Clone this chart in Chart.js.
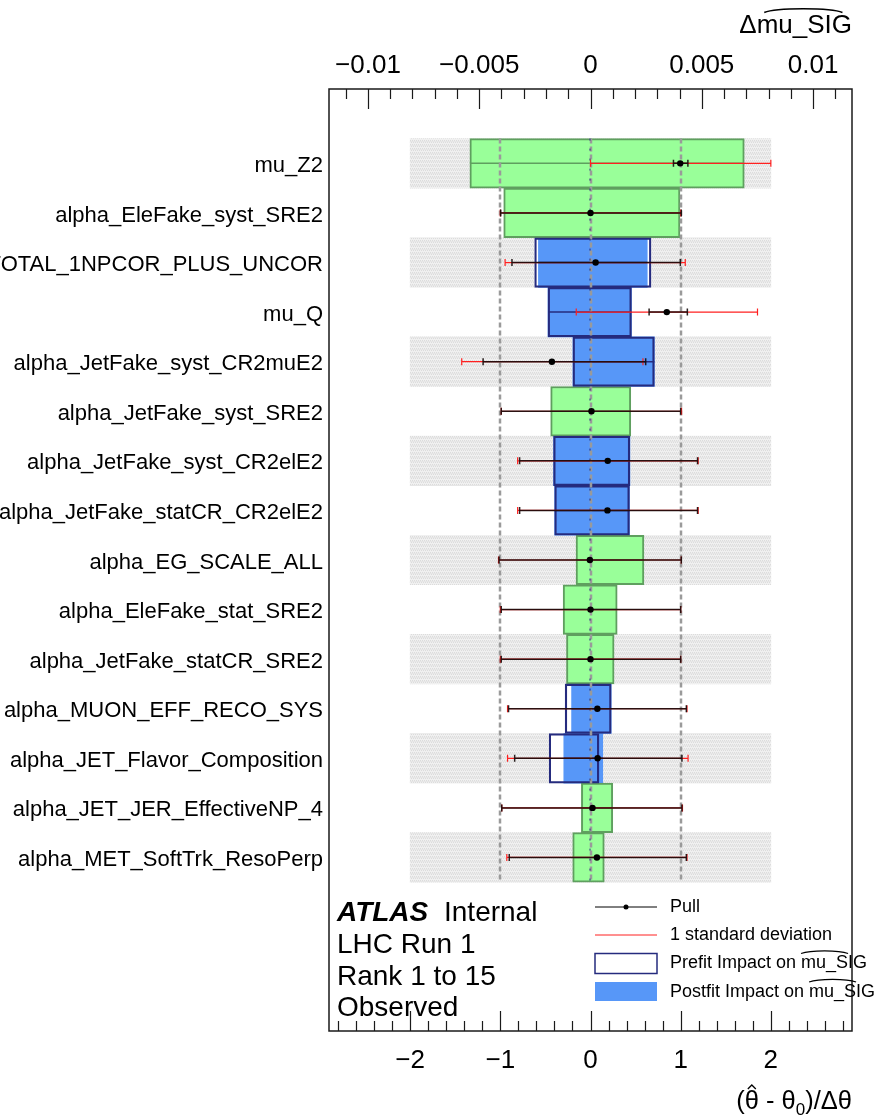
<!DOCTYPE html>
<html>
<head>
<meta charset="utf-8">
<script src="https://cdn.jsdelivr.net/npm/chart.js@4.4.1/dist/chart.umd.min.js"></script>
<style>
  html, body { margin: 0; padding: 0; background: #fff; }
  canvas { display: block; }
</style>
</head>
<body>
<canvas id="rankChart" width="877" height="1117"></canvas>
<script>
// ranking of nuisance parameters, top to bottom
const paramNames = [
  'mu_Z2',
  'alpha_EleFake_syst_SRE2',
  'alpha_EL_EFF_ID_TOTAL_1NPCOR_PLUS_UNCOR',
  'mu_Q',
  'alpha_JetFake_syst_CR2muE2',
  'alpha_JetFake_syst_SRE2',
  'alpha_JetFake_syst_CR2elE2',
  'alpha_JetFake_statCR_CR2elE2',
  'alpha_EG_SCALE_ALL',
  'alpha_EleFake_stat_SRE2',
  'alpha_JetFake_statCR_SRE2',
  'alpha_MUON_EFF_RECO_SYS',
  'alpha_JET_Flavor_Composition',
  'alpha_JET_JER_EffectiveNP_4',
  'alpha_MET_SoftTrk_ResoPerp'
];

// pulls (bottom axis)
const pullValue  = [0.995, 0.0, 0.057, 0.846, -0.428, 0.011, 0.191, 0.188, -0.007, 0.0, 0.0, 0.076, 0.079, 0.022, 0.071];
const pullLow    = [0.92, -0.996, -0.871, 0.65, -1.191, -0.99, -0.786, -0.786, -1.014, -0.99, -0.99, -0.909, -0.841, -0.984, -0.901];
const pullHigh   = [1.08, 1.007, 0.996, 1.074, 0.612, 1.0, 1.187, 1.187, 1.007, 1.0, 1.0, 1.063, 1.014, 1.014, 1.063];
const sigmaLow   = [0.0, -1.0, -0.947, -0.158, -1.428, -0.99, -0.808, -0.808, -1.02, -1.0, -1.0, -0.92, -0.92, -0.984, -0.928];
const sigmaHigh  = [2.0, 1.0, 1.051, 1.852, 0.582, 1.01, 1.194, 1.194, 1.007, 1.0, 1.0, 1.07, 1.082, 1.02, 1.07];

// impacts on mu_SIG (top axis)
const postfitLow  = [-0.00542, -0.0039, -0.00234, -0.00191, -0.00079, -0.00179, -0.00166, -0.00161, -0.00065, -0.00123, -0.00108, -0.00085, -0.0012, -0.00041, -0.0008];
const postfitHigh = [0.00691, 0.00402, 0.00255, 0.00184, 0.00287, 0.00181, 0.00177, 0.00175, 0.0024, 0.0012, 0.00106, 0.00093, 0.00055, 0.001, 0.00062];
const prefitLow   = [null, null, -0.00251, -0.00191, -0.00079, null, -0.00166, -0.00161, null, null, null, -0.00114, -0.00186, null, null];
const prefitHigh  = [null, null, 0.00272, 0.00184, 0.00287, null, 0.00177, 0.00175, null, null, null, 0.00093, 0.00038, null, null];
// which of the two impact series a row's box belongs to
const impactSeries = ['B', 'B', 'A', 'A', 'A', 'B', 'A', 'A', 'B', 'B', 'B', 'A', 'A', 'B', 'B'];

const pullTicks = [-2, -1, 0, 1, 2];
const impactTicks = [-0.01, -0.005, 0, 0.005, 0.01];
const refLines = [-1, 0, 1];
const bandRange = [-2, 2];

const FONT = "'Liberation Sans', Arial, Helvetica, sans-serif";
const GREEN = '#99ff99';
const GREEN_EDGE = '#5f9f5f';
const BLUE = '#5797f8';
const NAVY = '#252b7e';

const nRows = paramNames.length;
const rowY = i => nRows - 0.5 - i;

const makeBandPattern = () => {
    const c = document.createElement('canvas');
    c.width = 4; c.height = 4;
    const g = c.getContext('2d');
    g.fillStyle = '#f0f0f0';
    g.fillRect(0, 0, 4, 4);
    g.fillStyle = '#dcdcdc';
    g.fillRect(0, 0, 1, 1); g.fillRect(2, 0, 1, 1); g.fillRect(1, 2, 1, 1); g.fillRect(3, 2, 1, 1);
    g.fillStyle = '#e6e6e6';
    g.fillRect(0, 1, 4, 1);
    return g.createPattern(c, 'repeat');
};

const minus = v => (v < 0 ? '\u2212' : '') + Math.abs(v);

const boxOpts = { grouped: false, barPercentage: 1, categoryPercentage: 1, borderSkipped: false, xAxisID: 'x2', yAxisID: 'y' };

const bandData = paramNames.map((_, i) => i % 2 === 0 ? { x: bandRange, y: rowY(i) } : null).filter(Boolean);
const prefitData = paramNames.map((_, i) => prefitLow[i] !== null ? { x: [prefitLow[i], prefitHigh[i]], y: rowY(i) } : null).filter(Boolean);
const postfitData = s => paramNames.map((_, i) => impactSeries[i] === s ? { x: [postfitLow[i], postfitHigh[i]], y: rowY(i) } : null).filter(Boolean);

const OUTLINE_INDEX = 4;

const rankPlugin = {
    id: 'rankPlugin',
    afterDatasetDraw(chart, args) {
        if (args.index !== OUTLINE_INDEX) return;
        const { ctx, scales } = chart;
        const xs = scales.x, xi = scales.x2, ys = scales.y;
        ctx.save();
        // middle line through every impact box
        paramNames.forEach((_, i) => {
            const y = ys.getPixelForValue(rowY(i));
            ctx.strokeStyle = impactSeries[i] === 'B' ? GREEN_EDGE : NAVY;
            ctx.lineWidth = 1.5;
            ctx.beginPath();
            ctx.moveTo(xi.getPixelForValue(postfitLow[i]), y);
            ctx.lineTo(xi.getPixelForValue(postfitHigh[i]), y);
            ctx.stroke();
        });
        // dashed reference lines
        const yTop = ys.getPixelForValue(nRows), yBot = ys.getPixelForValue(0);
        ctx.strokeStyle = '#9a9a9a';
        ctx.lineWidth = 2.5;
        ctx.setLineDash([5, 3]);
        refLines.forEach(v => {
            const x = Math.round(xs.getPixelForValue(v));
            ctx.beginPath(); ctx.moveTo(x, yTop); ctx.lineTo(x, yBot); ctx.stroke();
        });
        ctx.strokeStyle = NAVY;
        ctx.lineWidth = 1;
        ctx.setLineDash([2, 8]);
        const x0 = Math.round(xs.getPixelForValue(0)) - 1;
        ctx.beginPath(); ctx.moveTo(x0, yTop); ctx.lineTo(x0, yBot); ctx.stroke();
        ctx.setLineDash([]);
        // error bars: 1 standard deviation (red) under pull error (black)
        const bar = (lo, hi, y, color, width) => {
            const a = xs.getPixelForValue(lo), b = xs.getPixelForValue(hi);
            ctx.strokeStyle = color;
            ctx.lineWidth = width;
            ctx.beginPath();
            ctx.moveTo(a, y); ctx.lineTo(b, y);
            ctx.moveTo(a, y - 3.5); ctx.lineTo(a, y + 3.5);
            ctx.moveTo(b, y - 3.5); ctx.lineTo(b, y + 3.5);
            ctx.stroke();
        };
        paramNames.forEach((_, i) => {
            const y = ys.getPixelForValue(rowY(i));
            bar(sigmaLow[i], sigmaHigh[i], y, '#ff2020', 1.2);
            bar(pullLow[i], pullHigh[i], y, 'rgba(20,10,10,0.9)', 1.5);
        });
        ctx.restore();
    },
    afterDraw(chart) {
        const { ctx, chartArea: ca, scales } = chart;
        ctx.save();
        // frame
        ctx.strokeStyle = '#1a1a1a';
        ctx.lineWidth = 1.5;
        ctx.strokeRect(ca.left, ca.top, ca.right - ca.left, ca.bottom - ca.top);
        // inward ticks
        const drawTicks = (scale, minorStep, perMajor, yEdge, dir) => {
            const k0 = Math.ceil(scale.min / minorStep - 1e-9);
            const k1 = Math.floor(scale.max / minorStep + 1e-9);
            ctx.lineWidth = 1.2;
            ctx.beginPath();
            for (let k = k0; k <= k1; k++) {
                const x = Math.round(scale.getPixelForValue(k * minorStep)) + 0.5;
                const len = k % perMajor === 0 ? 20 : 10;
                ctx.moveTo(x, yEdge);
                ctx.lineTo(x, yEdge + dir * len);
            }
            ctx.stroke();
        };
        drawTicks(scales.x, 0.2, 5, ca.bottom, -1);
        drawTicks(scales.x2, 0.001, 5, ca.top, 1);

        // ATLAS label
        ctx.fillStyle = '#000';
        ctx.textAlign = 'left';
        ctx.textBaseline = 'alphabetic';
        ctx.font = `italic bold 28px ${FONT}`;
        ctx.fillText('ATLAS', 337, 921);
        ctx.font = `28px ${FONT}`;
        ctx.fillText('Internal', 444, 921);
        ctx.fillText('LHC Run 1', 337, 953);
        ctx.fillText('Rank 1 to 15', 337, 985);
        ctx.fillText('Observed', 337, 1016);

        // legend
        const sx0 = 595, sx1 = 657, tx = 670;
        const rowsY = [907, 935, 963.5, 992];
        ctx.strokeStyle = '#000';
        ctx.lineWidth = 1;
        ctx.beginPath(); ctx.moveTo(sx0, rowsY[0]); ctx.lineTo(sx1, rowsY[0]); ctx.stroke();
        ctx.beginPath(); ctx.arc((sx0 + sx1) / 2, rowsY[0], 2.5, 0, Math.PI * 2); ctx.fill();
        ctx.strokeStyle = '#ff2020';
        ctx.beginPath(); ctx.moveTo(sx0, rowsY[1]); ctx.lineTo(sx1, rowsY[1]); ctx.stroke();
        ctx.fillStyle = '#fff';
        ctx.fillRect(sx0, rowsY[2] - 10, sx1 - sx0, 20);
        ctx.strokeStyle = NAVY;
        ctx.lineWidth = 1.5;
        ctx.strokeRect(sx0, rowsY[2] - 10, sx1 - sx0, 20);
        ctx.fillStyle = BLUE;
        ctx.fillRect(sx0, rowsY[3] - 10, sx1 - sx0, 19);

        ctx.fillStyle = '#000';
        ctx.font = `18px ${FONT}`;
        ctx.textBaseline = 'middle';
        ctx.fillText('Pull', tx, rowsY[0]);
        ctx.fillText('1 standard deviation', tx, rowsY[1]);
        const hatText = (prefix, y) => {
            ctx.fillText(prefix + 'mu_SIG', tx, y);
            const xm = tx + ctx.measureText(prefix).width;
            const w = ctx.measureText('mu_S').width;
            ctx.strokeStyle = '#000';
            ctx.lineWidth = 1.2;
            ctx.beginPath();
            ctx.moveTo(xm, y - 10);
            ctx.bezierCurveTo(xm + 0.2 * w, y - 13.5, xm + 0.8 * w, y - 13.5, xm + w, y - 10);
            ctx.stroke();
        };
        hatText('Prefit Impact on ', rowsY[2]);
        hatText('Postfit Impact on ', rowsY[3]);

        // top axis title
        ctx.textBaseline = 'alphabetic';
        ctx.textAlign = 'right';
        ctx.font = `26px ${FONT}`;
        const right = ca.right;
        ctx.fillText('\u0394mu_SIG', right, 33);
        const wMu = ctx.measureText('mu_SIG').width;
        const hx0 = right - wMu + 0.08 * wMu, hx1 = right - 0.1 * wMu;
        ctx.lineWidth = 1.5;
        ctx.beginPath();
        ctx.moveTo(hx0, 12.5);
        ctx.bezierCurveTo(hx0 + 0.15 * (hx1 - hx0), 7.5, hx1 - 0.15 * (hx1 - hx0), 7.5, hx1, 12.5);
        ctx.stroke();

        // bottom axis title: (theta-hat - theta_0)/Delta theta
        ctx.textAlign = 'left';
        const big = `25.5px ${FONT}`, small = `17px ${FONT}`;
        const parts = [['(', big, 0], ['\u03b8', big, 0], [' - \u03b8', big, 0], ['0', small, 6], [')/\u0394\u03b8', big, 0]];
        const widths = parts.map(([t, f]) => { ctx.font = f; return ctx.measureText(t).width; });
        let x = right - widths.reduce((a, b) => a + b, 0);
        const base = 1109;
        parts.forEach(([t, f, dy], j) => {
            ctx.font = f;
            ctx.fillText(t, x, base + dy);
            if (j === 1) {
                const cx = x + widths[j] / 2;
                ctx.lineWidth = 1.3;
                ctx.beginPath();
                ctx.moveTo(cx - 4, base - 20);
                ctx.lineTo(cx, base - 24);
                ctx.lineTo(cx + 4, base - 20);
                ctx.stroke();
            }
            x += widths[j];
        });
        ctx.restore();
    }
};

const ctx = document.getElementById('rankChart').getContext('2d');
const bandPattern = makeBandPattern();

new Chart(ctx, {
    type: 'bar',
    data: {
        datasets: [
            { label: 'band', data: bandData, backgroundColor: bandPattern, borderWidth: 0, order: 10,
              grouped: false, barPercentage: 1, categoryPercentage: 1, xAxisID: 'x', yAxisID: 'y' },
            { label: 'prefit fill', data: prefitData, backgroundColor: '#ffffff', borderWidth: 0, order: 9, ...boxOpts },
            { label: 'postfit A', data: postfitData('A'), backgroundColor: BLUE, borderWidth: 0, order: 8, ...boxOpts },
            { label: 'postfit B', data: postfitData('B'), backgroundColor: GREEN, borderColor: GREEN_EDGE, borderWidth: 2, order: 7, ...boxOpts },
            { label: 'Prefit Impact on mu_SIG', data: prefitData, backgroundColor: 'rgba(0,0,0,0)', borderColor: NAVY, borderWidth: 1.6, order: 6, ...boxOpts },
            { type: 'line', label: 'Pull', data: paramNames.map((_, i) => ({ x: pullValue[i], y: rowY(i) })),
              showLine: false, pointRadius: 3.2, pointBackgroundColor: '#000', pointBorderWidth: 0,
              xAxisID: 'x', yAxisID: 'y', order: 0 }
        ]
    },
    options: {
        indexAxis: 'y',
        responsive: false,
        animation: false,
        devicePixelRatio: 1,
        layout: { padding: { left: 0, right: 25, top: 0, bottom: 0 } },
        plugins: { legend: { display: false }, tooltip: { enabled: false } },
        scales: {
            y: {
                type: 'linear', position: 'left', min: -3, max: nRows + 1, offset: false,
                grid: { display: false, drawTicks: false, offset: false }, border: { display: false },
                afterBuildTicks: s => { s.ticks = paramNames.map((_, i) => ({ value: rowY(i) })); },
                afterFit: s => { s.width = 329; },
                ticks: {
                    autoSkip: false, padding: 6, labelOffset: 2.5, color: '#000',
                    font: { family: FONT, size: 22 },
                    callback: v => paramNames[Math.round(nRows - 0.5 - v)]
                }
            },
            x: {
                type: 'linear', position: 'bottom', min: -2.9, max: 2.9, offset: false,
                grid: { display: false, drawTicks: false }, border: { display: false },
                afterBuildTicks: s => { s.ticks = pullTicks.map(v => ({ value: v })); },
                afterFit: s => { s.height = 86; },
                ticks: { autoSkip: false, maxRotation: 0, padding: 17, color: '#000',
                         font: { family: FONT, size: 26, lineHeight: 1 }, callback: v => minus(v) }
            },
            x2: {
                type: 'linear', position: 'top', min: -0.01175, max: 0.01175, offset: false,
                grid: { display: false, drawTicks: false }, border: { display: false },
                afterBuildTicks: s => { s.ticks = impactTicks.map(v => ({ value: v })); },
                afterFit: s => { s.height = 89; },
                ticks: { autoSkip: false, maxRotation: 0, padding: 10.5, color: '#000',
                         font: { family: FONT, size: 26, lineHeight: 1 }, callback: v => minus(v) }
            }
        }
    },
    plugins: [rankPlugin]
});
</script>
</body>
</html>
